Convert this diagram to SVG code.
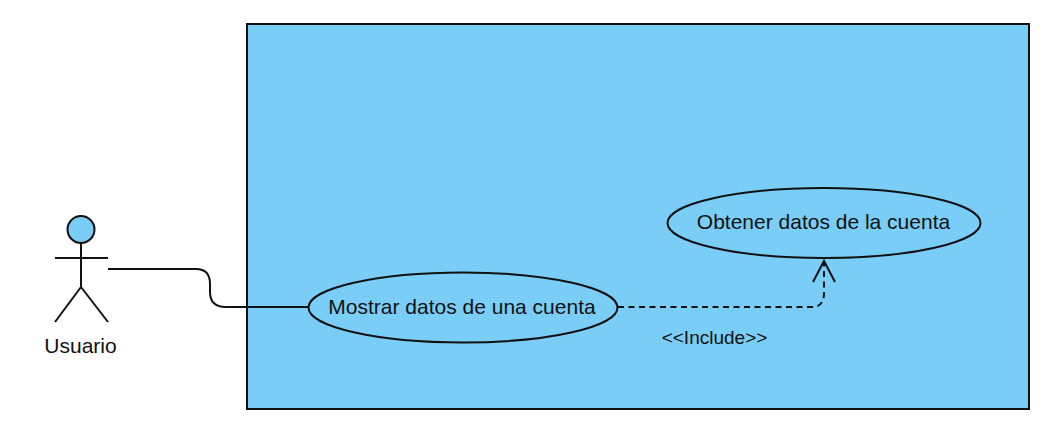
<svg xmlns="http://www.w3.org/2000/svg" width="1060" height="434" viewBox="0 0 1060 434">
<style>
.s{stroke:#111;stroke-width:2;fill:none}
.f{fill:#79cdf6;stroke:#111;stroke-width:2}
.t{font-family:"Liberation Sans",Arial,sans-serif;fill:#111;text-anchor:middle}
</style>
<rect width="1060" height="434" fill="#fff"/>
<g id="system"><rect class="f" x="247" y="24" width="782" height="385"/></g>
<g id="connectors">
<path class="s" d="M108 269H196Q210 269 210 284V292Q210 307 226 307H310"/>
<path class="s" stroke-dasharray="6 4.5" d="M618 307H812Q824 307 824 293V261"/>
<path class="s" d="M813 282L824 261L835 282"/>
</g>
<g id="actor">
<circle class="f" cx="81" cy="229.500" r="13.500"/>
<path class="s" d="M81 243V287M55 258H108M81 287L55 322M81 287L108 322"/>
<text class="t" x="80.500" y="353" font-size="21">Usuario</text>
</g>
<g id="mostrar"><ellipse class="f" cx="463" cy="307.500" rx="154.500" ry="35"/><text class="t" x="462" y="313.500" font-size="21">Mostrar datos de una cuenta</text></g>
<g id="obtener"><ellipse class="f" cx="824" cy="223" rx="156.500" ry="35"/><text class="t" x="823.500" y="229" font-size="21">Obtener datos de la cuenta</text></g>
<g id="label"><text class="t" x="714.500" y="343.500" font-size="19">&lt;&lt;Include&gt;&gt;</text></g>
</svg>
